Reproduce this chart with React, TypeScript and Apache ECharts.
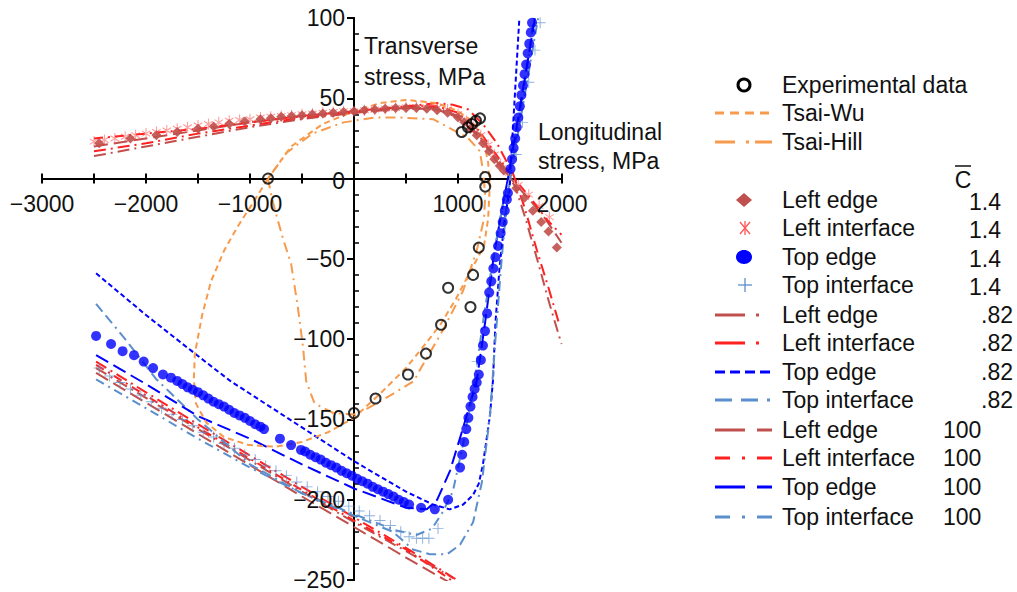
import React, { useEffect, useRef } from "react";
import * as echarts from "echarts";

// ---------- data (x: longitudinal stress MPa, y: transverse stress MPa) ----------
const experimental = [[-827,0],[1036,29],[1096,32],[1135,34],[1173,36],[1212,37.5],[1262,1],[1262,-5],[1200,-43],[1145,-60],[905,-68],[1120,-80],[837,-91],[692,-109],[519,-122],[207,-137],[0,-146]];

const tsaiWu = [[-827,0],[-605,20],[-300,34],[0,42],[250,47],[500,49],[800,47],[1000,42],[1150,35],[1240,25],[1290,10],[1305,-5],[1290,-25],[1250,-42],[1125,-57],[980,-75],[830,-91],[650,-106],[500,-118],[250,-134],[0,-149],[-250,-158],[-500,-164],[-750,-167],[-1010,-166],[-1250,-161],[-1420,-152],[-1520,-140],[-1540,-125],[-1530,-109],[-1460,-85],[-1375,-64],[-1250,-45],[-1120,-30],[-980,-16],[-827,0]];

const tsaiHill = [[-827,0],[-790,-12],[-750,-22],[-680,-38],[-605,-53],[-540,-80],[-490,-105],[-460,-126],[-380,-140],[-200,-146],[0,-147],[135,-143],[350,-135],[577,-126],[644,-118],[850,-95],[1048,-70],[1180,-45],[1250,-25],[1262,-10],[1240,5],[1210,17],[1100,25],[1020,28],[760,37],[442,38],[200,38],[-100,35],[-400,28],[-650,16],[-827,0]];

// Left edge / Left interface, C = 1.4 (markers)
const leftEdge14 = [[-2450,22],[-2150,25],[-1900,27],[-1700,29],[-1500,31],[-1350,32.5],[-1200,34],[-1050,35.5],[-900,37],[-800,37.5],[-700,38.5],[-600,39],[-500,39.5],[-400,40],[-300,40.5],[-200,41],[-100,41.5],[0,42],[100,42.5],[200,43],[300,43.5],[400,44],[500,44],[600,44],[700,43.5],[800,42.5],[900,41],[1000,38],[1060,35],[1120,31],[1180,27],[1240,22],[1300,17],[1350,12],[1400,8],[1440,5],[1560,-6],[1640,-12],[1720,-20],[1800,-27],[1870,-33],[1950,-43]];
const leftInterface14 = [[-2500,23],[-2400,24],[-2300,25],[-2200,26],[-2100,27],[-2000,28],[-1900,29],[-1800,30],[-1700,31],[-1600,32],[-1500,33],[-1400,34],[-1300,35],[-1200,36],[-1100,36.5],[-1000,37],[-900,38],[-800,38.5],[-700,39],[-600,39.5],[-500,40],[-400,40.5],[-300,41],[-200,41.5],[-100,42],[0,42],[100,42.5],[200,43],[300,43.5],[400,44],[500,44.5],[600,44.5],[700,44.5],[800,44],[900,43],[1000,40],[1080,36],[1150,32],[1220,27],[1290,21],[1350,15],[1410,9],[1460,5],[1580,-4],[1680,-10],[1780,-17],[1880,-24]];

// Top edge / Top interface, C = 1.4 (markers)
const topEdge14 = [[-2480,-98],[-2336,-103],[-2225,-107.5],[-2115,-110],[-2022,-114],[-1932,-118],[-1837,-122],[-1760,-124],[-1700,-126],[-1650,-128],[-1600,-130],[-1550,-131.5],[-1500,-133],[-1450,-135],[-1400,-137],[-1350,-139],[-1300,-140.5],[-1250,-142],[-1200,-144],[-1150,-146],[-1100,-147.5],[-1050,-149],[-1000,-151],[-950,-153],[-900,-154.5],[-865,-156],[-712,-162],[-605,-166],[-510,-169],[-470,-170],[-420,-172],[-370,-173.5],[-320,-175],[-270,-177],[-220,-178.5],[-170,-180],[-120,-182],[-70,-183.5],[-20,-185],[30,-187],[80,-188.5],[130,-190],[180,-192],[230,-193.5],[280,-195],[330,-196.5],[380,-198],[430,-200],[480,-201.5],[530,-203],[645,-205],[777,-206],[905,-200],[1020,-180],[1040,-172],[1060,-164],[1080,-156],[1100,-149],[1120,-142],[1140,-136],[1160,-131],[1180,-127],[1200,-122],[1220,-113],[1240,-104],[1260,-95],[1280,-84],[1300,-71],[1320,-64],[1340,-56],[1360,-49],[1385,-42],[1410,-34],[1430,-27],[1450,-20],[1470,-13],[1480,-9],[1505,6],[1520,12],[1535,19],[1550,25],[1565,32],[1580,38],[1595,45],[1610,52],[1625,58],[1640,65],[1655,71],[1670,78],[1685,84],[1700,91],[1712,97]];
const topInterface14 = [[-2450,-118],[-2350,-123],[-2250,-127],[-2150,-131],[-2050,-135],[-1950,-139],[-1850,-143],[-1750,-147],[-1650,-150],[-1550,-154],[-1450,-158],[-1350,-161],[-1250,-165],[-1150,-168],[-1050,-172],[-950,-175],[-850,-179],[-750,-182],[-650,-185],[-550,-189],[-450,-192],[-350,-195],[-250,-198],[-150,-201],[-50,-204],[50,-207],[150,-210],[250,-213],[350,-216],[450,-220],[530,-223],[600,-224],[660,-224],[720,-224],[808,-218],[1183,-114],[1560,15],[1620,35],[1680,60],[1740,80],[1790,97]];

// C = 0.82 lines
const leftEdge082 = [[-2500,14],[-2000,20],[-1500,26],[-1000,32],[-500,37],[0,41],[500,44],[800,44],[1000,39],[1200,27],[1350,14],[1450,5],[1550,-5],[1650,-25],[1760,-50],[1880,-78],[1995,-103]];
const leftEdge082Low = [[-2480,-118],[-1500,-156],[-500,-195],[0,-214],[500,-232],[960,-249]];
const leftInterface082 = [[-2500,17],[-2000,22],[-1500,28],[-1000,33],[-500,38],[0,41],[500,45],[800,47],[950,46],[1100,43],[1250,33],[1375,22],[1480,9],[1530,3],[1640,-18],[1760,-45],[1870,-68],[1975,-91]];
const leftInterface082Low = [[-2480,-114],[-1500,-153],[-500,-192],[0,-211],[500,-230],[990,-250]];
const topEdge082 = [[-2480,-59],[-2000,-85],[-1530,-109],[-1190,-126],[-500,-155],[0,-176],[500,-195],[760,-203],[920,-206],[1050,-203],[1145,-197],[1200,-190],[1240,-178],[1280,-160],[1308,-147],[1336,-126],[1360,-90],[1400,-55],[1450,-25],[1496,-7],[1500,0],[1545,50],[1590,100]];
const topInterface082 = [[-2480,-78],[-2200,-100],[-1900,-125],[-1500,-150],[-1000,-178],[-500,-196],[0,-210],[375,-220],[567,-231],[730,-234],[894,-234],[1020,-228],[1145,-214],[1230,-189],[1308,-147],[1360,-100],[1420,-50],[1470,-15],[1500,0],[1620,50],[1730,100]];

// C = 100 lines
const leftEdge100 = [[-2500,20],[-2000,25],[-1500,30],[-1000,35],[-500,39],[0,41],[500,44],[800,43],[1000,38],[1200,26],[1380,10],[1460,4],[1560,-4],[1700,-14],[1850,-26],[1995,-40]];
const leftEdge100Low = [[-2480,-121],[-1500,-159],[-500,-198],[0,-217],[500,-236],[930,-252]];
const leftInterface100 = [[-2500,25],[-2000,28],[-1500,31],[-1000,35],[-500,39],[0,42],[500,45],[800,45],[1000,41],[1200,30],[1400,12],[1480,5],[1580,-3],[1720,-14],[1860,-26],[1995,-35]];
const leftInterface100Low = [[-2480,-116],[-1500,-155],[-500,-194],[0,-213],[500,-231],[980,-252]];
const topEdge100 = [[-2480,-110],[-2000,-128],[-1500,-148],[-1000,-162],[-500,-178],[0,-193],[500,-205],[700,-206],[800,-200],[923,-182],[1050,-155],[1180,-126],[1260,-90],[1340,-50],[1420,-20],[1480,0],[1610,50],[1740,100]];
const topInterface100 = [[-2480,-125],[-2000,-143],[-1500,-162],[-1000,-180],[-500,-196],[0,-209],[400,-219],[600,-222],[750,-218],[850,-208],[950,-195],[1050,-165],[1150,-130],[1250,-85],[1350,-45],[1450,-10],[1500,0],[1650,55],[1770,100]];

// tick labels
const xTickLabels = [-3000, -2000, -1000, 1000, 2000];
const yTickLabels = [100, 50, 0, -50, -100, -150, -200, -250];

// legend texts
const legendTop = ["Experimental data", "Tsai-Wu", "Tsai-Hill"];
const legendNames = ["Left edge", "Left interface", "Top edge", "Top interface"];
const cValues = ["1.4", ".82", "100"];

const BROWN = "#C0504D";
const RED = "#FF2020";
const BLUE = "#0000FF";
const STEEL = "#5B8FCB";
const ORANGE = "#F79A4C";
const FONT = '"Liberation Sans", Arial, sans-serif';

const ASTERISK = "path://M-1,-10L1,-10L1,10L-1,10Z M-8.16,-5.87L9.16,4.13L8.16,5.87L-9.16,-4.13Z M8.16,-5.87L-9.16,4.13L-8.16,5.87L9.16,-4.13Z";
const PLUS = "path://M-0.7,-8L0.7,-8L0.7,-0.7L8,-0.7L8,0.7L0.7,0.7L0.7,8L-0.7,8L-0.7,0.7L-8,0.7L-8,-0.7L-0.7,-0.7Z";

const ln = (data: number[][], color: string, dash: any, width = 2, opacity = 1) => ({
  type: "line", data, symbol: "none", showSymbol: false, silent: true,
  lineStyle: { color, type: dash, width, opacity }, z: 2,
});
const sc = (data: number[][], symbol: string, size: any, itemStyle: any) => ({
  type: "scatter", data, symbol, symbolSize: size, silent: true, itemStyle, z: 3,
});

const minus = (v: number) => String(v).replace("-", "\u2212");

const txt = (text: string, x: number, y: number, align = "left", extra: any = {}) => ({
  type: "text", x, y, silent: true, z: 10,
  style: { text, fill: "#111", fontSize: 23, fontFamily: FONT, align, verticalAlign: "middle", ...extra },
});

function buildLegend() {
  const els: any[] = [];
  const tx = 782;
  const seg = (y: number, color: string, dash: number[]) => ({
    type: "line", silent: true, shape: { x1: 715, y1: y, x2: 772, y2: y },
    style: { stroke: color, lineWidth: 3, lineDash: dash },
  });
  els.push({ type: "circle", silent: true, shape: { cx: 744, cy: 85, r: 6 }, style: { fill: "none", stroke: "#000", lineWidth: 3 } });
  els.push(txt(legendTop[0], tx, 85));
  els.push(seg(113, ORANGE, [9, 6]));
  els.push(txt(legendTop[1], tx, 113));
  els.push(seg(142, ORANGE, [20, 11, 3, 6]));
  els.push(txt(legendTop[2], tx, 142));
  // C-bar header
  els.push(txt("C", 963, 180, "center"));
  els.push({ type: "line", silent: true, shape: { x1: 955, y1: 166, x2: 971, y2: 166 }, style: { stroke: "#111", lineWidth: 1.5 } });
  // 1.4 markers
  const r14 = [200, 228, 257, 285];
  els.push({ type: "polygon", silent: true, shape: { points: [[744, 193], [752, 200], [744, 207], [736, 200]] }, style: { fill: BROWN } });
  const ay = r14[1];
  els.push({ type: "line", silent: true, shape: { x1: 745, y1: ay - 7, x2: 745, y2: ay + 7 }, style: { stroke: "#FF5555", lineWidth: 1.3 } });
  els.push({ type: "line", silent: true, shape: { x1: 740, y1: ay - 6, x2: 750, y2: ay + 6 }, style: { stroke: "#FF5555", lineWidth: 1.3 } });
  els.push({ type: "line", silent: true, shape: { x1: 750, y1: ay - 6, x2: 740, y2: ay + 6 }, style: { stroke: "#FF5555", lineWidth: 1.3 } });
  els.push({ type: "ellipse", silent: true, shape: { cx: 744, cy: r14[2], rx: 8, ry: 7 }, style: { fill: BLUE } });
  const py = r14[3];
  els.push({ type: "line", silent: true, shape: { x1: 745, y1: py - 7, x2: 745, y2: py + 7 }, style: { stroke: STEEL, lineWidth: 1.3 } });
  els.push({ type: "line", silent: true, shape: { x1: 738, y1: py, x2: 752, y2: py }, style: { stroke: STEEL, lineWidth: 1.3 } });
  r14.forEach((y, i) => {
    els.push(txt(legendNames[i], tx, y));
    els.push(txt(cValues[0], 1001, y + 2, "right"));
  });
  const c4 = [BROWN, RED, BLUE, STEEL];
  const r082 = [315, 343, 372, 400];
  const d082 = [[30, 11, 3, 20], [30, 11, 3, 20], [10, 5], [17, 9, 17, 9, 3, 20]];
  r082.forEach((y, i) => {
    els.push(seg(y, c4[i], d082[i]));
    els.push(txt(legendNames[i], tx, y));
    els.push(txt(cValues[1], 981, y));
  });
  const r100 = [430, 458, 487, 517];
  const d100 = [[30, 12], [15, 12, 3, 12], [30, 12], [15, 12, 3, 12]];
  r100.forEach((y, i) => {
    els.push(seg(y, c4[i], d100[i]));
    els.push(txt(legendNames[i], tx, y));
    els.push(txt(cValues[2], 943, y));
  });
  els.push(txt("Transverse", 364, 46));
  els.push(txt("stress, MPa", 364, 77));
  els.push(txt("Longitudinal", 538, 132));
  els.push(txt("stress, MPa", 538, 161));
  return els;
}

export default function App() {
  const ref = useRef<HTMLDivElement>(null);
  useEffect(() => {
    if (!ref.current) return;
    const chart = echarts.init(ref.current, null, { renderer: "svg" });
    const axisLine = { onZero: true, onZeroAxisIndex: 0, lineStyle: { color: "#000", width: 2 } };
    const dashE082 = [12, 5, 2, 5];
    const option: any = {
      animation: false,
      backgroundColor: "#fff",
      grid: { left: 42, right: 455, top: 18, bottom: 12, containLabel: false, outerBoundsMode: "none" },
      xAxis: [
        {
          type: "value", min: -3000, max: 2000, interval: 500, position: "bottom",
          axisLine, axisTick: { show: true, length: 5, lineStyle: { color: "#000", width: 2 } },
          axisLabel: { show: false }, splitLine: { show: false },
        },
        {
          type: "value", min: -3000, max: 2000, interval: 500, position: "bottom",
          axisLine, axisTick: { show: true, inside: true, length: 5, lineStyle: { color: "#000", width: 2 } },
          axisLabel: { show: false }, splitLine: { show: false },
        },
      ],
      yAxis: [
        {
          type: "value", min: -250, max: 100, interval: 50, position: "left",
          axisLine: { onZero: true, onZeroAxisIndex: 0, lineStyle: { color: "#000", width: 2 } },
          axisTick: { show: true, length: 7, lineStyle: { color: "#000", width: 2 } },
          axisLabel: { show: false }, splitLine: { show: false },
        },
        {
          type: "value", min: -250, max: 100, interval: 50, position: "left",
          axisLine: { onZero: true, onZeroAxisIndex: 0, lineStyle: { color: "#000", width: 2 } },
          axisTick: { show: false, inside: true },
          minorTick: { show: true, splitNumber: 5, length: 5, lineStyle: { color: "#000", width: 1.5 } },
          axisLabel: { show: false }, splitLine: { show: false },
        },
      ],
      series: [
        ln(leftEdge082, BROWN, dashE082),
        ln(leftEdge082Low, BROWN, dashE082),
        ln(leftInterface082, RED, dashE082),
        ln(leftInterface082Low, RED, dashE082),
        ln(leftEdge100, BROWN, [14, 6]),
        ln(leftEdge100Low, BROWN, [14, 6]),
        ln(leftInterface100, RED, [9, 5, 2, 5]),
        ln(leftInterface100Low, RED, [9, 5, 2, 5]),
        ln(topEdge082, BLUE, [5, 3]),
        ln(topInterface082, STEEL, [10, 5, 10, 5, 2, 5]),
        ln(topEdge100, BLUE, [14, 6]),
        ln(topInterface100, STEEL, [9, 5, 2, 5]),
        ln(tsaiWu, ORANGE, [6, 4]),
        ln(tsaiHill, ORANGE, [10, 5, 2, 5]),
        sc(leftInterface14, ASTERISK, [9, 11], { color: "#FF4040", opacity: 0.55 }),
        sc(leftEdge14, "diamond", [10, 10], { color: BROWN, opacity: 0.9 }),
        sc(topInterface14, PLUS, 11, { color: STEEL, opacity: 0.7 }),
        sc(topEdge14, "circle", 10, { color: BLUE }),
        sc(experimental, "circle", 10, { color: "rgba(255,255,255,0)", borderColor: "#000", borderWidth: 2 }),
      ],
    };
    chart.setOption(option);

    // tick labels placed next to the zero-crossing axes via the chart's own scales
    const origin = chart.convertToPixel({ gridIndex: 0 }, [0, 0]) as number[];
    const labels: any[] = [];
    xTickLabels.forEach((v) => {
      const p = chart.convertToPixel({ gridIndex: 0 }, [v, 0]) as number[];
      labels.push(txt(minus(v), p[0], origin[1] + 25, "center"));
    });
    yTickLabels.forEach((v) => {
      const p = chart.convertToPixel({ gridIndex: 0 }, [0, v]) as number[];
      labels.push(txt(minus(v), origin[0] - 9, p[1] + (v === 0 ? 2 : 0), "right"));
    });
    chart.setOption({ graphic: [...buildLegend(), ...labels] });
    return () => chart.dispose();
  }, []);
  return (
    <div
      ref={ref}
      style={{ position: "absolute", left: 0, top: 0, width: 1017, height: 592, background: "#fff" }}
    />
  );
}
